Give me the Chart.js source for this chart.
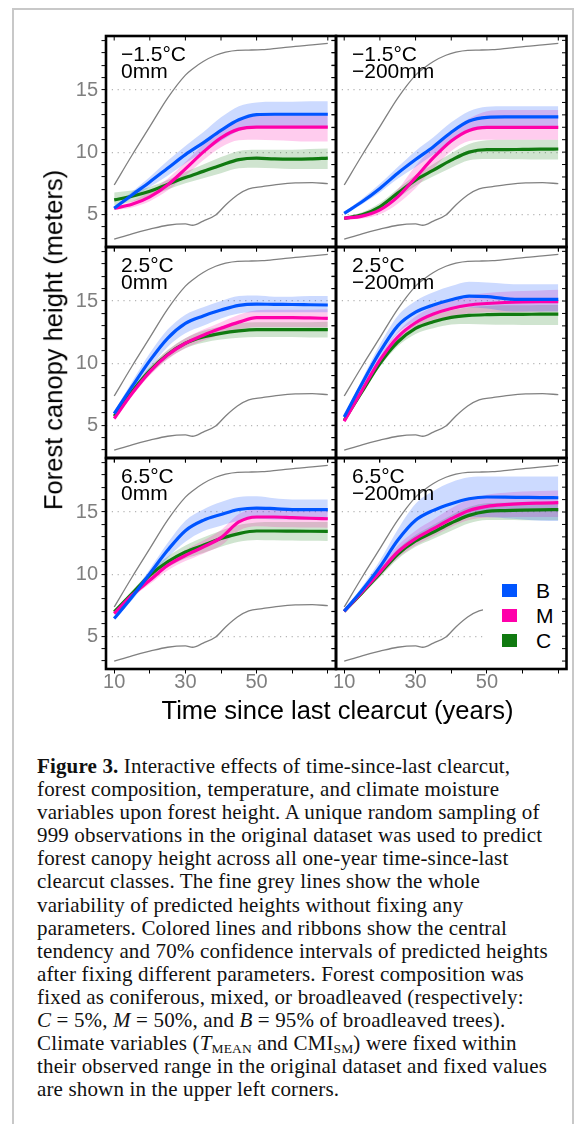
<!DOCTYPE html>
<html lang="en">
<head>
<meta charset="UTF-8">
<title>Forest canopy height</title>
<script src="https://cdn.jsdelivr.net/npm/chart.js"></script>
<style>
    body { margin: 0; background: #fff; }
    #fig { position: relative; width: 578px; height: 1124px; overflow: hidden; font-family: "Liberation Sans", Arial, sans-serif; }
    .frame { position: absolute; left: 12px; top: 8px; width: 562px; height: 1200px; box-sizing: border-box; border: 2px solid #c8c8c8; }
    canvas { position: absolute; left: 0; top: 0; }
    .plabel { position: absolute; font-size: 21px; line-height: 17px; color: #000; white-space: nowrap; }
    .ytitle { position: absolute; left: 54px; top: 340px; font-size: 25.5px; line-height: 25.5px; white-space: nowrap;
              transform: translate(-50%, -50%) rotate(-90deg); }
    .xtitle { position: absolute; left: 337.5px; top: 698px; font-size: 25.5px; line-height: 25.5px; white-space: nowrap;
              transform: translateX(-50%); }
    .legend { position: absolute; left: 483px; top: 566px; width: 78px; height: 98px; background: #fff; }
    .legend div { position: absolute; left: 0; height: 25px; width: 78px; font-size: 21px; line-height: 25px; }
    .legend span.sq { position: absolute; left: 19px; top: 6px; width: 15px; height: 13px; }
    .legend span.tx { position: absolute; left: 53px; top: 0; }
    .cap { position: absolute; left: 37px; top: 755px; font-family: "Liberation Serif", "Times New Roman", serif;
           font-size: 21px; letter-spacing: 0.15px; line-height: 23.1px; color: #111; white-space: nowrap; }
    .cap sub { font-size: 13.5px; line-height: 0; vertical-align: -3px; }
</style>
</head>
<body>
<div id="fig">
    <div class="frame"></div>
    <canvas id="c0" width="578" height="730"></canvas>
    <canvas id="c1" width="578" height="730"></canvas>
    <canvas id="c2" width="578" height="730"></canvas>
    <canvas id="c3" width="578" height="730"></canvas>
    <canvas id="c4" width="578" height="730"></canvas>
    <canvas id="c5" width="578" height="730"></canvas>
    <div id="labels"></div>
    <div class="legend">
        <div style="top:12px"><span class="sq" style="background:#0055ff"></span><span class="tx">B</span></div>
        <div style="top:37px"><span class="sq" style="background:#ff00aa"></span><span class="tx">M</span></div>
        <div style="top:62px"><span class="sq" style="background:#107a10"></span><span class="tx">C</span></div>
    </div>
    <div class="ytitle">Forest canopy height (meters)</div>
    <div class="xtitle">Time since last clearcut (years)</div>
    <div class="cap">
        <b>Figure 3.</b> Interactive effects of time-since-last clearcut,<br>
        forest composition, temperature, and climate moisture<br>
        variables upon forest height. A unique random sampling of<br>
        999 observations in the original dataset was used to predict<br>
        forest canopy height across all one-year time-since-last<br>
        clearcut classes. The fine grey lines show the whole<br>
        variability of predicted heights without fixing any<br>
        parameters. Colored lines and ribbons show the central<br>
        tendency and 70% confidence intervals of predicted heights<br>
        after fixing different parameters. Forest composition was<br>
        fixed as coniferous, mixed, or broadleaved (respectively:<br>
        <i>C</i> = 5%, <i>M</i> = 50%, and <i>B</i> = 95% of broadleaved trees).<br>
        Climate variables (<i>T</i><sub>MEAN</sub> and CMI<sub>SM</sub>) were fixed within<br>
        their observed range in the original dataset and fixed values<br>
        are shown in the upper left corners.
    </div>
</div>

<script>
    // x values shared by the fitted curves
    const years = [10, 15, 20, 25, 30, 35, 40, 45, 50, 55, 60, 65, 70];

    // grey envelope (same in every panel)
    const greyYears = [10, 15, 20, 25, 30, 32, 35, 38.5, 41.3, 44.6, 47.8, 51.6, 56.2, 60.9, 65.6, 70];
    const greyHigh = [7.35, 9.75, 12.05, 14.35, 16.2, 16.7, 17.3, 17.8, 18.05, 18.2, 18.22, 18.25, 18.38, 18.52, 18.63, 18.75];
    const greyLow = [2.99, 3.42, 3.79, 4.11, 4.22, 4.11, 4.45, 4.94, 5.75, 6.55, 7.04, 7.22, 7.41, 7.52, 7.54, 7.46];

    const yTickLabels = [5, 10, 15];
    const xTickLabels = [10, 30, 50];
    const panelTitles = [['−1.5°C', '0mm'], ['−1.5°C', '−200mm'], ['2.5°C', '0mm'], ['2.5°C', '−200mm'], ['6.5°C', '0mm'], ['6.5°C', '−200mm']];

    // panel 1: -1.5°C, 0mm
    const b1 = [5.48, 6.55, 7.6, 8.7, 9.8, 10.75, 11.75, 12.6, 13.02, 13.05, 13.05, 13.05, 13.05];
    const b1hi = [5.6, 6.8, 8.0, 9.3, 10.5, 11.6, 12.8, 13.7, 14.0, 14.05, 14.05, 14.1, 14.1];
    const b1lo = [5.35, 6.3, 7.2, 8.1, 9.1, 10.0, 10.9, 11.7, 12.05, 12.05, 12.05, 12.05, 12.05];
    const m1 = [5.48, 5.8, 6.4, 7.35, 8.65, 10.0, 11.15, 11.85, 12.02, 12.02, 12.02, 12.02, 12.02];
    const m1hi = [5.6, 6.05, 6.8, 7.85, 9.2, 10.6, 11.85, 12.7, 12.95, 13.0, 13.0, 13.0, 13.0];
    const m1lo = [5.35, 5.55, 6.05, 6.9, 8.1, 9.35, 10.4, 10.95, 11.0, 10.95, 10.9, 10.85, 10.85];
    const c1 = [6.15, 6.45, 6.85, 7.4, 7.95, 8.45, 8.95, 9.4, 9.52, 9.45, 9.43, 9.45, 9.52];
    const c1hi = [6.75, 6.9, 7.2, 7.75, 8.4, 9.0, 9.6, 10.1, 10.2, 10.2, 10.2, 10.25, 10.3];
    const c1lo = [5.7, 6.0, 6.45, 7.0, 7.5, 7.9, 8.3, 8.7, 8.75, 8.7, 8.65, 8.65, 8.65];

    // panel 2: -1.5°C, -200mm
    const b2 = [5.07, 6.0, 7.08, 8.3, 9.4, 10.44, 11.6, 12.5, 12.8, 12.83, 12.83, 12.83, 12.83];
    const b2hi = [5.2, 6.25, 7.45, 8.8, 10.1, 11.2, 12.4, 13.3, 13.65, 13.7, 13.7, 13.7, 13.7];
    const b2lo = [4.95, 5.8, 6.75, 7.85, 8.8, 9.8, 10.9, 11.75, 11.95, 11.95, 11.95, 11.95, 11.95];
    const m2 = [4.67, 4.85, 5.35, 6.4, 7.95, 9.55, 10.9, 11.75, 12.0, 12.0, 12.0, 12.0, 12.0];
    const m2hi = [4.8, 5.05, 5.75, 7.0, 8.9, 10.4, 11.7, 12.7, 13.3, 13.4, 13.4, 13.4, 13.4];
    const m2lo = [4.55, 4.65, 5.0, 5.85, 7.1, 8.7, 10.1, 10.9, 11.0, 11.0, 11.0, 11.0, 11.0];
    const c2 = [4.67, 4.95, 5.6, 6.7, 7.75, 8.55, 9.35, 10.0, 10.2, 10.2, 10.22, 10.24, 10.25];
    const c2hi = [4.8, 5.15, 5.9, 7.05, 8.15, 9.05, 9.9, 10.65, 10.95, 11.0, 11.0, 11.0, 11.0];
    const c2lo = [4.55, 4.75, 5.3, 6.3, 7.3, 8.05, 8.75, 9.35, 9.45, 9.45, 9.42, 9.4, 9.4];

    // panel 3: 2.5°C, 0mm
    const b3 = [5.94, 8.1, 10.2, 12.0, 13.2, 13.8, 14.27, 14.65, 14.75, 14.73, 14.72, 14.7, 14.68];
    const b3hi = [6.1, 8.5, 10.8, 12.7, 13.9, 14.5, 15.0, 15.4, 15.45, 15.35, 15.35, 15.4, 15.4];
    const b3lo = [5.8, 7.75, 9.6, 11.3, 12.4, 13.0, 13.6, 14.0, 14.1, 14.1, 14.1, 14.1, 14.1];
    const m3 = [5.54, 7.55, 9.3, 10.65, 11.6, 12.25, 12.8, 13.3, 13.66, 13.66, 13.66, 13.64, 13.6];
    const m3hi = [5.65, 7.75, 9.6, 11.0, 12.0, 12.7, 13.3, 13.9, 14.25, 14.3, 14.3, 14.3, 14.33];
    const m3lo = [5.4, 7.35, 9.0, 10.3, 11.2, 11.8, 12.3, 12.7, 12.9, 12.9, 12.9, 12.88, 12.88];
    const c3 = [5.73, 7.7, 9.4, 10.7, 11.6, 12.1, 12.4, 12.6, 12.7, 12.7, 12.7, 12.7, 12.7];
    const c3hi = [5.85, 7.9, 9.7, 11.05, 12.0, 12.6, 12.95, 13.2, 13.3, 13.3, 13.3, 13.3, 13.33];
    const c3lo = [5.6, 7.5, 9.1, 10.35, 11.2, 11.65, 11.9, 12.05, 12.1, 12.1, 12.1, 12.07, 12.07];

    // panel 4: 2.5°C, -200mm
    const b4 = [5.67, 8.36, 10.9, 13.0, 14.1, 14.68, 15.1, 15.4, 15.35, 15.2, 15.13, 15.13, 15.13];
    const b4hi = [5.8, 8.7, 11.5, 13.8, 15.0, 15.7, 16.2, 16.55, 16.5, 16.4, 16.35, 16.35, 16.35];
    const b4lo = [5.55, 8.05, 10.4, 12.4, 13.4, 13.95, 14.3, 14.5, 14.4, 14.2, 14.15, 14.15, 14.15];
    const m4 = [5.32, 7.82, 10.24, 12.1, 13.25, 13.95, 14.4, 14.68, 14.8, 14.88, 14.92, 14.94, 14.95];
    const m4hi = [5.45, 8.0, 10.55, 12.5, 13.75, 14.55, 15.1, 15.45, 15.65, 15.75, 15.8, 15.85, 15.9];
    const m4lo = [5.2, 7.6, 9.9, 11.7, 12.8, 13.4, 13.8, 14.0, 14.1, 14.1, 14.12, 14.14, 14.15];
    const c4 = [5.4, 7.7, 9.97, 11.7, 12.8, 13.33, 13.68, 13.84, 13.9, 13.92, 13.93, 13.94, 13.95];
    const c4hi = [5.5, 7.9, 10.25, 12.05, 13.25, 13.85, 14.25, 14.5, 14.6, 14.65, 14.65, 14.67, 14.68];
    const c4lo = [5.3, 7.5, 9.7, 11.35, 12.35, 12.8, 13.1, 13.15, 13.1, 13.08, 13.07, 13.06, 13.06];

    // panel 5: 6.5°C, 0mm
    const b5 = [6.42, 8.16, 10.04, 11.92, 13.5, 14.33, 14.8, 15.2, 15.32, 15.27, 15.2, 15.19, 15.19];
    const b5hi = [6.55, 8.4, 10.4, 12.5, 14.3, 15.2, 15.8, 16.2, 16.26, 16.1, 16.0, 16.0, 16.0];
    const b5lo = [6.3, 7.9, 9.65, 11.3, 12.6, 13.45, 13.9, 14.3, 14.45, 14.4, 14.4, 14.38, 14.38];
    const m5 = [6.82, 8.3, 9.5, 10.7, 11.5, 12.18, 12.94, 14.2, 14.6, 14.6, 14.55, 14.5, 14.46];
    const m5hi = [6.95, 8.5, 9.8, 11.05, 11.95, 12.7, 13.55, 14.85, 15.25, 15.27, 15.27, 15.27, 15.27];
    const m5lo = [6.7, 8.1, 9.2, 10.3, 11.05, 11.65, 12.3, 13.5, 13.85, 13.8, 13.78, 13.75, 13.74];
    const c5 = [6.96, 8.43, 9.9, 10.98, 11.78, 12.32, 12.86, 13.26, 13.47, 13.47, 13.46, 13.45, 13.44];
    const c5hi = [7.1, 8.65, 10.2, 11.4, 12.3, 12.95, 13.5, 13.95, 14.15, 14.2, 14.2, 14.2, 14.2];
    const c5lo = [6.8, 8.2, 9.6, 10.55, 11.25, 11.7, 12.2, 12.6, 12.75, 12.72, 12.7, 12.68, 12.67];

    // panel 6: 6.5°C, -200mm
    const b6 = [7.01, 8.7, 10.58, 12.72, 14.33, 15.13, 15.67, 16.07, 16.21, 16.2, 16.18, 16.16, 16.15];
    const b6hi = [7.15, 9.0, 11.1, 13.6, 15.67, 16.7, 17.4, 17.8, 17.87, 17.87, 17.87, 17.87, 17.87];
    const b6lo = [6.9, 8.4, 10.1, 11.9, 12.86, 13.7, 14.4, 14.6, 14.6, 14.5, 14.4, 14.3, 14.28];
    const m6 = [7.0, 8.57, 10.16, 11.78, 12.86, 13.66, 14.46, 15.13, 15.46, 15.6, 15.68, 15.72, 15.75];
    const m6hi = [7.1, 8.8, 10.5, 12.3, 13.5, 14.4, 15.3, 16.0, 16.4, 16.55, 16.65, 16.7, 16.74];
    const m6lo = [6.9, 8.35, 9.85, 11.3, 12.3, 13.05, 13.8, 14.35, 14.55, 14.58, 14.6, 14.6, 14.6];
    const c6 = [7.0, 8.49, 10.04, 11.6, 12.67, 13.39, 14.12, 14.73, 15.05, 15.12, 15.16, 15.18, 15.19];
    const c6hi = [7.1, 8.7, 10.35, 12.0, 13.15, 13.95, 14.75, 15.4, 15.7, 15.75, 15.78, 15.8, 15.8];
    const c6lo = [6.9, 8.3, 9.75, 11.2, 12.2, 12.85, 13.5, 14.1, 14.35, 14.35, 14.34, 14.33, 14.33];

    const panels = [
        [b1, b1hi, b1lo, m1, m1hi, m1lo, c1, c1hi, c1lo],
        [b2, b2hi, b2lo, m2, m2hi, m2lo, c2, c2hi, c2lo],
        [b3, b3hi, b3lo, m3, m3hi, m3lo, c3, c3hi, c3lo],
        [b4, b4hi, b4lo, m4, m4hi, m4lo, c4, c4hi, c4lo],
        [b5, b5hi, b5lo, m5, m5hi, m5lo, c5, c5hi, c5lo],
        [b6, b6hi, b6lo, m6, m6hi, m6lo, c6, c6hi, c6lo]
    ];

    // panel boxes in page pixels
    const cols = [[106, 336], [336, 566.5]];
    const rows = [[36, 247], [247, 458], [458, 669]];
    const W = 578, H = 730;
    const YW = 44, XH = 30;   // fixed axis box sizes
    const font = { family: '"Liberation Sans", Arial, sans-serif', size: 20, lineHeight: 1 };

    const toPts = (xs, ys) => xs.map((x, i) => ({ x: x, y: ys[i] }));
    const line = (data, color, width) => ({
        data: data, borderColor: color, borderWidth: width, pointRadius: 0, fill: false, cubicInterpolationMode: 'monotone'
    });
    const band = (data, color, target) => ({
        data: data, borderColor: 'rgba(0,0,0,0)', borderWidth: 0, backgroundColor: color, pointRadius: 0, fill: target, cubicInterpolationMode: 'monotone'
    });

    // frame and inward ticks on the top and right edges
    const framePlugin = {
        id: 'frame',
        afterDraw(chart) {
            const { ctx, chartArea: a } = chart;
            const x = chart.scales.x, y = chart.scales.y;
            ctx.save();
            ctx.strokeStyle = '#000';
            ctx.lineWidth = 1;
            ctx.beginPath();
            y.ticks.forEach(t => { const py = y.getPixelForValue(t.value); ctx.moveTo(a.right - 4.5, py); ctx.lineTo(a.right, py); });
            x.ticks.forEach(t => { const px = x.getPixelForValue(t.value); ctx.moveTo(px, a.top); ctx.lineTo(px, a.top + 4.5); });
            ctx.stroke();
            ctx.lineWidth = 2.6;
            ctx.strokeRect(a.left, a.top, a.right - a.left, a.bottom - a.top);
            ctx.restore();
        }
    };

    const labelsDiv = document.getElementById('labels');

    panels.forEach((p, i) => {
        const col = i % 2, row = Math.floor(i / 2);
        const [L, R] = cols[col];
        const [T, B] = rows[row];
        const isLeft = col === 0, isBottom = row === 2;

        new Chart(document.getElementById('c' + i), {
            type: 'line',
            data: {
                datasets: [
                    line(toPts(years, p[0]), '#0055ff', 3.2),
                    line(toPts(years, p[3]), '#ff00aa', 3.2),
                    line(toPts(years, p[6]), '#107a10', 3.2),
                    band(toPts(years, p[1]), 'rgba(0,70,255,0.2)', 4),
                    band(toPts(years, p[2]), 'rgba(0,0,0,0)', false),
                    band(toPts(years, p[4]), 'rgba(255,0,170,0.2)', 6),
                    band(toPts(years, p[5]), 'rgba(0,0,0,0)', false),
                    band(toPts(years, p[7]), 'rgba(16,122,16,0.2)', 8),
                    band(toPts(years, p[8]), 'rgba(0,0,0,0)', false),
                    line(toPts(greyYears, greyHigh), '#808080', 1.3),
                    line(toPts(greyYears, greyLow), '#808080', 1.3)
                ]
            },
            options: {
                responsive: false,
                animation: false,
                devicePixelRatio: 1,
                layout: { padding: { left: L - YW, right: W - R, top: T, bottom: H - B - XH } },
                plugins: { legend: { display: false }, tooltip: { enabled: false } },
                scales: {
                    x: {
                        type: 'linear', min: 7.7, max: 72.3,
                        afterFit: s => { s.height = XH; },
                        grid: { drawOnChartArea: false, color: 'rgba(0,0,0,0)', tickLength: 4.5, tickColor: '#000', tickWidth: 1 },
                        border: { display: false },
                        ticks: {
                            stepSize: 10, includeBounds: false, autoSkip: false, maxRotation: 0, padding: -1,
                            color: '#7f7f7f', font: font,
                            callback: v => (isBottom && xTickLabels.includes(v)) ? String(v) : ''
                        }
                    },
                    y: {
                        type: 'linear', min: 2.36, max: 19.35,
                        afterFit: s => { s.width = YW; },
                        grid: {
                            color: c => (c.tick && yTickLabels.includes(c.tick.value)) ? '#b5b5b5' : 'rgba(0,0,0,0)',
                            lineWidth: 1.2, tickLength: 4.5, tickColor: '#000', tickWidth: 1
                        },
                        border: { display: false, dash: [1.2, 4.6] },
                        ticks: {
                            stepSize: 1, includeBounds: false, autoSkip: false, padding: 3.5,
                            color: '#7f7f7f', font: font,
                            callback: v => (isLeft && yTickLabels.includes(v)) ? String(v) : ''
                        }
                    }
                }
            },
            plugins: [framePlugin]
        });

        const lab = document.createElement('div');
        lab.className = 'plabel';
        lab.style.left = (L + (isLeft ? 15 : 16)) + 'px';
        lab.style.top = (T + 9) + 'px';
        lab.innerHTML = panelTitles[i][0] + '<br>' + panelTitles[i][1];
        labelsDiv.appendChild(lab);
    });
</script>
</body>
</html>
